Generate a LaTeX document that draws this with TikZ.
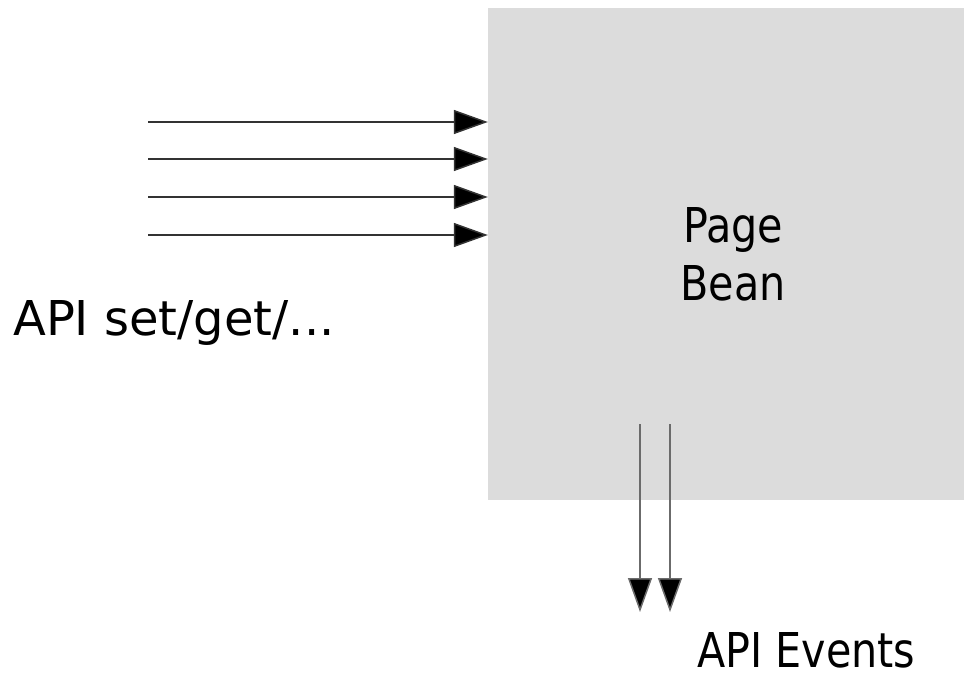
\documentclass[tikz,border=0pt]{standalone}
\usepackage{fontspec}
\setsansfont{DejaVu Sans}
\newfontfamily\beanfont{DejaVu Sans}[FakeStretch=0.86]
\usetikzlibrary{arrows.meta}
\definecolor{boxgray}{rgb}{0.863,0.863,0.863}
\definecolor{linegray}{rgb}{0.2,0.2,0.2}
\definecolor{downgray}{rgb}{0.42,0.42,0.42}
\tikzset{
  beanbox/.style={rectangle,fill=boxgray,inner sep=0pt,minimum width=476bp,minimum height=492bp},
  apiline/.style={draw=linegray,line width=1.5bp,-{Triangle[length=34bp,width=24bp,fill=black]}},
  apilabel/.style={inner sep=0pt,anchor=base west},
  narrowtext/.style={font=\beanfont\fontsize{48bp}{58bp}\selectfont}
}
\begin{document}
\begin{tikzpicture}[line cap=butt,line join=miter,x=1bp,y=-1bp,font=\sffamily\fontsize{48bp}{58bp}\selectfont]
\useasboundingbox (0,0) rectangle (964,676);
\node[beanbox] (pagebean) at (726,254) {};
\node[align=center,inner sep=0pt,narrowtext] (beanname) at ([xshift=7bp]pagebean.center) {Page\\Bean};
\foreach \i/\yy in {1/122,2/159,3/197,4/235}
  \coordinate (in\i) at (148,\yy);
\foreach \i in {1,...,4}
  \draw[apiline] (in\i) -- (in\i -| pagebean.west);
\coordinate (outa) at (640,424);
\coordinate (outb) at (670,424);
\draw[apiline,draw=downgray] (outa) -- ++(0,188);
\draw[apiline,draw=downgray] (outb) -- ++(0,188);
\node[apilabel] (setget) at (13,335) {API set/get/...};
\node[apilabel,narrowtext] (events) at (697,667) {API Events};
\end{tikzpicture}
\end{document}
